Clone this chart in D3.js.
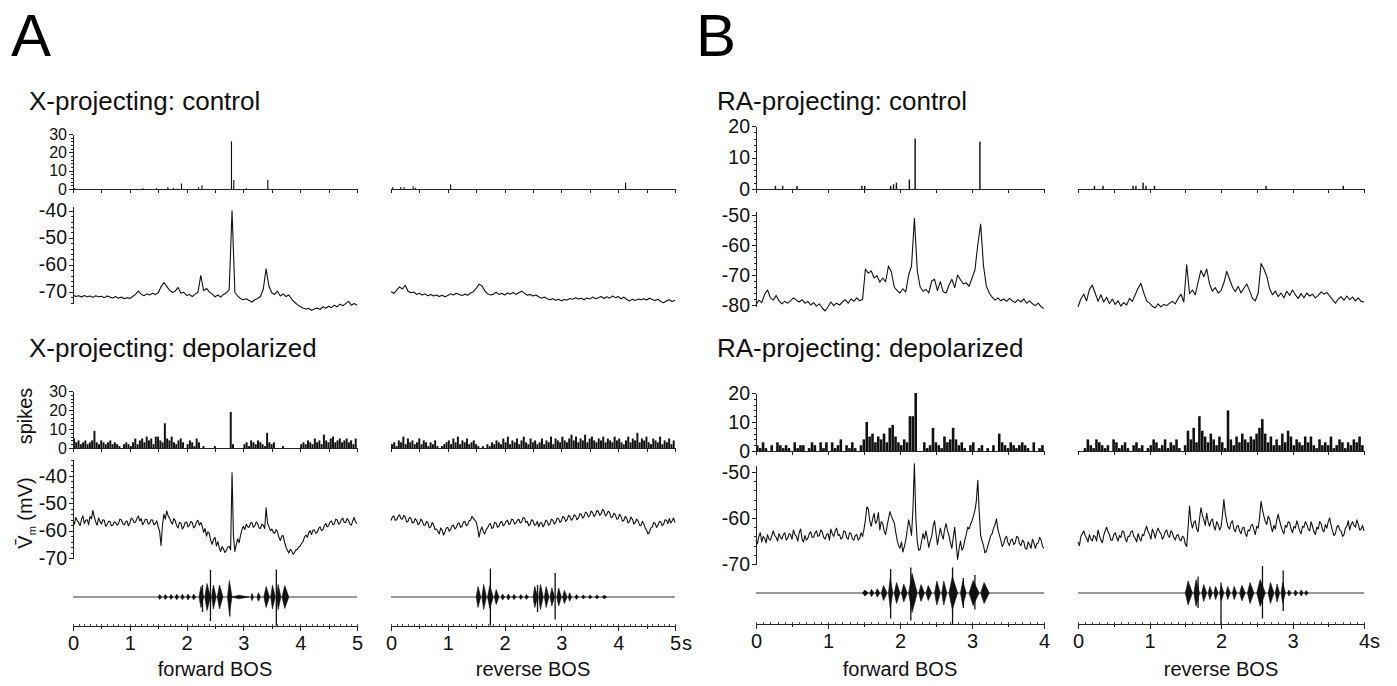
<!DOCTYPE html>
<html>
<head>
<meta charset="utf-8">
<title>BOS responses</title>
<script src="https://d3js.org/d3.v7.min.js"></script>
<style>
  body { margin: 0; background: #fff; }
  svg { display: block; font-family: "Liberation Sans", Arial, Helvetica, sans-serif; }
  .trace { fill: none; stroke: #111; stroke-width: 1.1; stroke-linejoin: round; }
  .axis path, .axis line { stroke: #222; shape-rendering: crispEdges; }
  .axis text { fill: #111; font-family: "Liberation Sans", Arial, sans-serif; }
</style>
</head>
<body>
<script>
// ---------- data ----------
// control Vm traces, mV. A: step 0.05 s over 5 s, B: step 0.04 s over 4 s
const vmA_ctrl_fwd = [-71.2,-71.8,-71.5,-72.0,-71.4,-71.9,-71.6,-72.1,-71.5,-71.9,
  -71.7,-72.2,-71.6,-72.0,-72.3,-71.8,-72.4,-72.0,-72.6,-72.2,
  -72.5,-71.8,-71.0,-69.8,-70.9,-71.5,-70.8,-71.2,-70.6,-71.0,
  -70.4,-68.2,-66.6,-68.0,-69.4,-70.3,-69.8,-68.4,-70.6,-70.2,
  -71.4,-71.0,-71.8,-70.9,-70.2,-64.0,-69.6,-68.8,-70.1,-70.8,
  -71.9,-71.2,-72.0,-71.0,-70.4,-69.2,-40.0,-70.3,-71.6,-72.6,
  -73.0,-72.6,-73.3,-73.8,-73.0,-72.5,-71.8,-69.0,-61.5,-68.0,
  -70.4,-71.0,-69.8,-71.6,-70.8,-71.8,-71.2,-72.8,-73.9,-74.8,
  -75.5,-76.0,-76.4,-76.2,-76.9,-76.4,-76.0,-76.6,-75.6,-76.1,
  -75.4,-75.9,-75.0,-75.6,-74.6,-75.2,-74.4,-73.6,-75.0,-74.4,-75.0];
const vmA_ctrl_rev = [-70.0,-70.6,-69.4,-68.2,-69.0,-67.6,-69.8,-70.4,-70.1,-71.0,
  -70.6,-71.2,-70.8,-71.5,-71.0,-71.6,-71.2,-71.8,-71.3,-71.9,
  -71.4,-70.8,-71.2,-70.6,-71.0,-71.4,-70.9,-71.3,-70.5,-70.0,
  -68.8,-67.2,-67.8,-69.6,-70.8,-71.2,-71.0,-70.2,-71.0,-70.6,
  -71.2,-70.5,-70.9,-70.3,-71.0,-70.4,-69.8,-70.6,-71.3,-71.0,
  -71.6,-71.2,-71.9,-72.4,-72.0,-72.6,-73.0,-72.6,-73.2,-72.8,
  -73.4,-72.9,-73.1,-72.5,-72.8,-72.2,-72.7,-72.4,-73.0,-72.3,
  -72.7,-72.0,-72.6,-72.2,-71.8,-72.5,-71.9,-72.4,-71.6,-72.2,
  -71.8,-72.6,-72.0,-72.9,-73.4,-72.8,-73.3,-72.7,-73.0,-72.6,
  -73.1,-72.4,-72.9,-73.3,-72.8,-73.6,-74.1,-73.4,-73.0,-73.6,-73.2];
const vmB_ctrl_fwd = [-80.0,-78.4,-79.2,-76.4,-75.0,-77.6,-78.4,-76.8,-78.6,-79.6,
  -78.8,-79.4,-78.6,-77.6,-78.4,-79.0,-78.2,-79.4,-78.8,-80.0,
  -79.2,-80.4,-79.6,-81.0,-82.0,-80.6,-79.0,-80.2,-79.4,-80.0,
  -79.0,-78.2,-79.4,-78.0,-78.8,-77.6,-78.6,-78.2,-68.0,-69.4,
  -68.6,-71.0,-70.2,-72.4,-71.0,-72.2,-67.0,-69.0,-74.0,-75.2,
  -76.0,-74.6,-75.6,-70.0,-67.0,-51.2,-68.6,-74.0,-75.4,-74.8,
  -76.0,-72.0,-71.4,-75.2,-72.2,-75.6,-76.0,-73.4,-71.4,-74.2,
  -70.0,-71.6,-73.0,-72.6,-73.8,-71.0,-68.4,-60.0,-53.0,-67.0,
  -73.8,-76.0,-77.4,-78.4,-77.6,-78.6,-78.0,-78.8,-77.8,-78.6,
  -79.2,-78.2,-79.0,-78.0,-79.4,-78.6,-79.6,-80.2,-79.4,-80.6,-81.2];
const vmB_ctrl_rev = [-80.6,-78.0,-76.4,-78.6,-74.8,-73.4,-76.0,-78.8,-76.6,-79.0,
  -77.4,-79.6,-78.0,-79.8,-78.6,-80.4,-79.2,-80.0,-77.8,-78.8,
  -76.6,-74.4,-72.8,-76.0,-78.6,-79.4,-80.4,-81.0,-79.6,-80.6,
  -79.8,-80.2,-79.4,-78.8,-79.6,-77.8,-76.4,-79.0,-66.6,-76.2,
  -75.0,-76.6,-72.4,-68.4,-70.6,-68.0,-73.0,-75.4,-74.2,-76.0,
  -75.2,-72.6,-68.8,-71.4,-74.0,-75.6,-73.8,-76.0,-74.4,-73.0,
  -75.2,-77.8,-78.6,-76.0,-66.2,-68.0,-70.4,-74.6,-76.6,-75.4,
  -77.2,-76.0,-77.6,-75.4,-76.8,-75.0,-76.6,-77.8,-76.2,-77.6,
  -76.0,-77.0,-76.4,-77.6,-76.8,-75.6,-76.4,-75.8,-77.0,-78.2,
  -79.4,-78.0,-77.2,-78.4,-77.0,-78.2,-77.4,-78.6,-77.6,-78.8,-79.0];

// depolarized Vm traces, mV. A: step 0.025 s, B: step 0.02 s
const vmA_dep_fwd = [-56.3,-57.6,-55.2,-56.4,-57.0,-58.2,-55.8,-54.6,-57.4,-56.2,-56.0,-57.8,-54.8,-55.6,-52.6,-55.0,-56.8,-58.0,-55.4,-56.6,
  -57.6,-56.0,-56.2,-58.4,-57.8,-56.6,-56.6,-58.2,-58.0,-56.8,-56.9,-58.0,-57.5,-55.8,-56.0,-57.4,-57.9,-56.8,-56.4,-58.2,
  -57.2,-55.4,-55.8,-57.0,-56.9,-55.6,-54.6,-56.4,-55.6,-57.8,-57.0,-55.8,-55.9,-57.6,-57.3,-56.0,-56.1,-57.8,-57.5,-56.4,
  -58.6,-60.2,-65.4,-58.0,-54.0,-55.8,-52.8,-54.6,-55.4,-56.8,-57.6,-55.6,-56.3,-58.2,-59.0,-57.0,-57.2,-59.4,-58.6,-57.0,
  -56.8,-58.6,-58.0,-56.6,-57.1,-59.0,-58.4,-56.8,-56.2,-58.0,-57.0,-58.4,-60.6,-59.2,-62.0,-60.4,-61.0,-63.6,-65.0,-63.2,
  -62.4,-65.6,-64.0,-66.2,-67.6,-65.8,-66.8,-68.0,-67.2,-66.0,-65.8,-67.0,-38.8,-62.0,-67.6,-65.0,-63.0,-64.4,-61.6,-59.6,
  -58.4,-59.6,-57.6,-58.6,-58.8,-57.2,-57.0,-58.8,-58.2,-56.8,-57.4,-59.0,-59.2,-57.6,-58.0,-59.2,-51.6,-57.2,-58.6,-60.0,
  -59.4,-60.6,-61.0,-59.6,-60.4,-62.4,-63.6,-62.0,-61.8,-64.2,-66.0,-67.2,-68.2,-66.8,-67.4,-68.6,-68.0,-67.0,-66.8,-66.0,
  -65.6,-64.6,-64.0,-62.4,-61.6,-62.4,-60.8,-60.0,-61.4,-59.8,-59.8,-61.0,-60.6,-59.2,-58.6,-60.0,-59.6,-58.2,-57.4,-58.6,
  -58.2,-56.8,-56.4,-57.8,-57.6,-55.8,-56.0,-57.6,-57.2,-56.0,-55.4,-57.0,-57.0,-55.6,-56.2,-57.6,-58.0,-56.4,-55.2,-56.8,-57.4];
const vmA_dep_rev = [-56.3,-55.0,-54.6,-56.2,-56.0,-54.8,-54.2,-55.6,-55.8,-54.4,-55.0,-56.8,-56.6,-55.2,-55.4,-57.2,-57.0,-55.6,-56.2,-57.8,
  -57.4,-55.8,-56.4,-58.0,-58.0,-56.6,-57.2,-59.0,-58.6,-57.0,-57.8,-59.6,-59.4,-60.2,-61.2,-59.0,-59.8,-61.6,-60.4,-59.0,
  -58.8,-60.2,-59.6,-58.2,-58.0,-59.4,-58.8,-57.4,-57.2,-58.8,-58.4,-56.8,-56.6,-58.2,-57.8,-56.4,-56.2,-54.8,-55.4,-56.2,
  -56.8,-59.0,-62.4,-60.0,-58.6,-60.4,-61.2,-59.6,-59.0,-57.8,-57.4,-59.2,-58.8,-57.0,-57.2,-58.8,-58.4,-57.0,-56.6,-58.2,
  -57.8,-56.6,-56.2,-57.8,-57.4,-55.8,-56.0,-57.6,-57.2,-56.2,-55.8,-57.2,-56.8,-55.2,-55.4,-57.0,-56.6,-58.2,-57.6,-56.0,
  -56.4,-58.0,-57.8,-56.6,-58.6,-57.2,-57.0,-58.6,-57.8,-56.2,-56.6,-58.0,-57.4,-55.8,-56.2,-57.6,-57.0,-55.4,-55.6,-57.0,
  -56.4,-54.8,-55.2,-56.6,-56.0,-54.4,-54.8,-56.2,-55.6,-54.2,-54.6,-56.0,-55.4,-53.8,-54.0,-55.4,-54.8,-53.2,-53.6,-55.0,
  -54.4,-52.8,-53.4,-54.8,-54.2,-52.6,-53.0,-54.4,-53.8,-52.2,-52.8,-54.6,-54.0,-52.8,-53.4,-55.2,-55.0,-53.6,-54.2,-55.8,
  -55.6,-54.0,-54.8,-56.6,-56.2,-54.8,-55.4,-57.2,-56.6,-55.0,-55.8,-57.6,-57.0,-55.8,-56.4,-58.0,-58.2,-56.6,-57.4,-59.0,
  -59.8,-61.2,-60.6,-59.0,-58.6,-57.0,-57.4,-58.8,-58.0,-56.6,-56.8,-58.2,-57.6,-56.0,-56.2,-57.4,-55.6,-57.2,-56.4,-55.4,-57.0];
const vmB_dep_fwd = [-64.8,-65.6,-64.0,-63.2,-65.2,-64.0,-64.4,-65.4,-63.6,-64.6,-64.8,-63.8,-62.8,-63.8,-64.2,-65.0,-63.4,-64.2,-64.6,-63.6,
  -63.2,-64.8,-64.4,-63.4,-63.6,-64.6,-62.6,-63.6,-64.0,-65.0,-63.2,-62.4,-64.6,-65.2,-63.8,-64.8,-64.4,-63.4,-63.0,-64.2,
  -64.2,-63.2,-62.8,-64.0,-63.8,-62.6,-63.0,-64.2,-64.6,-63.6,-63.4,-64.8,-62.4,-63.4,-64.0,-62.8,-62.2,-63.8,-63.6,-64.6,
  -64.2,-62.8,-63.0,-64.2,-64.6,-63.2,-63.4,-64.6,-64.8,-63.8,-63.6,-64.8,-64.4,-63.2,-64.0,-62.4,-60.4,-57.6,-58.0,-60.6,
  -61.8,-60.2,-59.0,-61.2,-60.6,-58.8,-62.6,-60.8,-61.2,-62.8,-63.6,-61.8,-60.2,-58.6,-59.6,-60.4,-61.0,-63.0,-64.8,-66.0,
  -66.6,-65.2,-67.4,-66.2,-64.8,-62.6,-60.4,-61.8,-63.8,-58.0,-48.2,-60.0,-65.2,-67.0,-66.8,-65.0,-63.4,-64.6,-62.8,-64.4,
  -66.4,-65.0,-64.0,-61.8,-60.6,-63.2,-65.8,-64.0,-62.2,-63.6,-64.6,-62.4,-61.2,-62.8,-63.8,-65.4,-66.6,-64.2,-62.0,-65.6,
  -69.0,-66.8,-65.0,-67.0,-66.4,-64.8,-63.6,-62.0,-62.4,-61.4,-60.6,-59.6,-58.4,-56.4,-51.8,-58.6,-63.8,-65.0,-66.0,-67.6,
  -67.2,-66.0,-65.0,-63.8,-63.4,-62.2,-61.4,-60.2,-62.6,-63.6,-64.8,-66.2,-65.6,-64.4,-64.0,-65.4,-66.0,-64.8,-64.6,-65.8,
  -65.4,-64.0,-64.2,-65.6,-66.0,-64.8,-65.2,-66.6,-66.8,-65.2,-65.8,-66.6,-64.6,-65.4,-66.6,-65.6,-65.4,-64.2,-64.8,-66.2,-66.6];
const vmB_dep_rev = [-65.2,-66.0,-64.0,-63.4,-62.8,-63.8,-64.4,-65.2,-63.6,-64.6,-65.0,-63.8,-64.0,-65.0,-62.6,-63.8,-64.8,-65.4,-63.8,-62.8,
  -62.0,-63.0,-63.6,-64.8,-64.8,-63.6,-63.2,-64.2,-65.0,-63.8,-64.2,-62.8,-63.0,-64.4,-65.2,-64.0,-64.0,-63.0,-62.8,-64.0,
  -64.4,-65.2,-63.4,-64.4,-65.0,-63.6,-63.8,-62.6,-61.8,-63.0,-63.6,-64.6,-62.4,-63.2,-64.4,-63.0,-62.2,-63.0,-63.4,-64.6,
  -64.0,-63.0,-62.6,-63.8,-64.2,-62.8,-63.2,-64.2,-64.8,-63.8,-63.6,-64.6,-65.0,-64.0,-64.2,-65.6,-66.2,-62.0,-57.4,-60.8,
  -62.2,-61.0,-60.6,-62.4,-63.0,-60.2,-57.8,-59.4,-60.4,-61.6,-59.0,-60.8,-61.8,-60.6,-60.2,-61.8,-62.6,-60.8,-61.4,-62.6,
  -62.0,-59.4,-56.0,-59.0,-60.8,-62.0,-62.4,-61.0,-60.6,-62.4,-63.0,-61.8,-61.6,-62.8,-63.4,-62.2,-62.0,-63.4,-64.0,-62.6,
  -62.8,-61.6,-61.4,-62.6,-63.6,-61.8,-62.2,-59.8,-56.4,-58.2,-59.6,-60.8,-61.4,-59.6,-60.2,-61.8,-63.0,-61.6,-62.4,-60.4,
  -59.2,-60.6,-61.8,-62.8,-63.4,-61.6,-62.0,-60.8,-61.0,-62.4,-63.2,-61.8,-62.2,-60.6,-61.6,-62.8,-63.4,-61.8,-62.0,-60.8,
  -61.4,-62.4,-62.8,-60.8,-61.8,-63.0,-63.6,-62.0,-62.4,-60.8,-61.2,-62.6,-63.0,-61.4,-62.2,-60.8,-60.0,-61.6,-62.8,-63.8,
  -63.4,-62.0,-61.6,-62.6,-62.8,-64.0,-63.6,-62.2,-61.8,-60.6,-62.6,-61.4,-60.8,-61.6,-62.0,-60.4,-61.4,-62.6,-62.4,-61.6,-62.8];

// spike histograms, depolarized: 0.04 s bins
const histA_dep_fwd = [5,3,4,2,3,4,2,3,4,9, 3,2,4,3,2,3,4,2,3,2, 1,0,2,3,2,1,3,5,2,4,
  5,3,6,4,5,2,6,6,4,3, 13,5,4,6,3,2,4,5,3,0, 2,4,3,1,5,3,0,1,0,0,
  0,0,1,0,0,0,0,0,0,19, 2,0,0,0,0,2,3,1,4,3, 2,4,3,2,1,8,3,2,3,0,
  0,0,1,0,0,0,0,0,0,0, 2,3,2,4,3,2,5,3,4,2, 7,4,3,5,6,3,4,5,3,4, 5,3,4,2,5];
const histA_dep_rev = [2,3,1,4,3,6,2,5,3,4, 2,3,5,2,4,3,1,3,2,4, 1,0,1,2,3,
  4,2,5,3,6,2,4,3,5,2, 3,4,2,1,0,1,0,2,1,3, 2,4,3,2,5,3,6,2,4,3,
  5,2,4,6,3,2,5,3,4,2, 3,5,2,4,3,6,2,5,4,3, 6,4,3,5,7,4,6,3,5,4,
  7,3,5,6,4,3,5,4,6,3, 5,4,3,6,4,5,3,2,4,6, 3,5,4,8,3,5,4,6,3,2, 5,4,3,6,2,4,3,5,2,4];
const histB_dep_fwd = [2,1,3,1,0,2,0,3,2,1, 2,1,0,3,1,2,2,0,1,3, 2,0,3,1,3,0,3,1,2,4,
  0,2,1,3,1,0,2, 4,10,5,6,3,5,4,6,3,8,9,5,3,
  2,4,3,12,12,20,0,0,3,1, 2,8,3,2,1,5,3,4,8,4, 2,3,1,0,2,3,0,1,2,0,
  1,0,2,0,6,3,2,1,3,2, 1,2,3,2,1,0,3,0,1,2];
const histB_dep_rev = [0,0,1,4,2,1,4,3,2,1, 2,0,4,3,1,2,3,1,0,2, 3,1,2,0,1,2,4,3,1,2,
  4,1,3,2,4,1,0, 2,7,4,
  8,3,12,7,5,3,6,4,2,5, 3,1,14,4,2,5,3,6,4,3, 5,4,6,8,11,6,3,5,2,4,
  2,6,3,7,5,2,4,3,2,5, 3,5,2,1,4,2,3,2,5,1, 2,4,3,1,3,2,4,3,5,2];

// spike histograms, control: sparse [time s, count], 0.02 s bins
const histA_ctrl_fwd = [[0.02,0.5],[1.22,0.5],[1.46,0.6],[1.66,1],[1.76,0.5],[1.90,3],[2.20,1],[2.26,2],[2.78,26],[2.82,5],[3.04,0.5],[3.42,5]];
const histA_ctrl_rev = [[0.02,1],[0.16,1],[0.22,1],[0.38,1.5],[0.42,0.7],[1.04,2.5],[4.12,3.5]];
const histB_ctrl_fwd = [[0.26,1],[0.36,1],[0.56,1],[1.46,1],[1.50,1],[1.86,1],[1.90,1.5],[1.94,2],[2.12,3],[2.20,16],[3.10,15]];
const histB_ctrl_rev = [[0.22,1],[0.34,1],[0.76,1],[0.80,1],[0.90,2],[0.94,1],[1.06,1],[2.62,1],[3.70,1]];

// song: syllables [start s, end s, rel. amplitude], clicks [time s, up, down]
const songA_fwd = [[1.50,1.56,0.08],[1.60,1.66,0.08],[1.70,1.76,0.08],[1.80,1.86,0.09],[1.90,1.96,0.09],[2.00,2.06,0.1],[2.10,2.16,0.1],
  [2.22,2.30,0.35],[2.32,2.42,0.45],[2.44,2.52,0.4],[2.54,2.64,0.4],[2.72,2.80,0.55],[2.80,3.10,0.06],[3.13,3.18,0.12],[3.24,3.30,0.14],
  [3.36,3.46,0.35],[3.48,3.56,0.4],[3.58,3.66,0.42],[3.68,3.80,0.38]];
const clicksA_fwd = [[2.42,0.9,0.8],[2.28,0.4,0.5],[2.76,0.35,0.65],[3.58,0.92,0.95]];
const songA_rev = [[1.50,1.58,0.35],[1.60,1.68,0.42],[1.70,1.80,0.38],[1.82,1.90,0.25],[1.94,2.00,0.1],[2.04,2.10,0.1],[2.14,2.20,0.09],
  [2.26,2.32,0.08],[2.36,2.42,0.08],[2.50,2.58,0.35],[2.60,2.68,0.42],[2.70,2.78,0.35],[2.80,2.88,0.3],[2.92,3.00,0.3],[3.02,3.10,0.22],
  [3.12,3.18,0.14],[3.24,3.30,0.08],[3.36,3.42,0.07],[3.48,3.54,0.07],[3.60,3.66,0.07],[3.72,3.80,0.06]];
const clicksA_rev = [[1.75,0.95,0.95],[2.58,0.4,0.5],[2.89,0.8,0.75]];
const songB_fwd = [[1.48,1.56,0.1],[1.58,1.64,0.12],[1.66,1.72,0.14],[1.74,1.82,0.25],[1.84,1.90,0.5],[1.92,2.00,0.35],[2.02,2.10,0.3],
  [2.12,2.24,0.65],[2.26,2.34,0.28],[2.36,2.44,0.25],[2.48,2.56,0.4],[2.58,2.65,0.4],[2.68,2.80,0.55],[2.84,2.92,0.4],[2.96,3.10,0.42],[3.12,3.24,0.35]];
const clicksB_fwd = [[1.87,0.8,0.85],[2.15,0.85,0.92],[2.73,0.85,1.05],[2.88,0.5,0.5],[3.04,0.6,0.55]];
const songB_rev = [[1.50,1.60,0.4],[1.62,1.70,0.45],[1.73,1.80,0.28],[1.82,1.88,0.22],[1.90,1.96,0.22],[1.98,2.04,0.26],[2.07,2.13,0.22],
  [2.16,2.22,0.22],[2.26,2.34,0.26],[2.37,2.46,0.35],[2.50,2.62,0.45],[2.66,2.74,0.35],[2.76,2.82,0.3],[2.84,2.90,0.35],[2.93,2.98,0.1],
  [3.02,3.07,0.1],[3.10,3.15,0.1],[3.17,3.22,0.08]];
const clicksB_rev = [[1.68,0.55,0.5],[2.0,0.35,1.05],[2.58,0.9,0.85],[2.87,0.75,0.6]];

const ticksHistA = [0,10,20,30], ticksHistB = [0,10,20];
const ticksVmA = [-40,-50,-60,-70], ticksVmBc = [-50,-60,-70,-80], ticksVmBd = [-50,-60,-70];

// ---------- layout ----------
const W = 1397, H = 686;
const FONT = '"Liberation Sans", Arial, sans-serif';
const svg = d3.select("body").append("svg").attr("width", W).attr("height", H);

const panels = [
  { letter: "A", lx: 11, tx: 29, tmax: 5, stepC: 0.05, stepD: 0.025, cols: [[73, 357], [391, 675]], sGap: 7,
    titles: ["X-projecting: control", "X-projecting: depolarized"],
    h1: { y0: 189, top: 134, max: 30, ticks: ticksHistA, fs: 16 },
    v1: { dom: [-70, -40], rng: [291.7, 210.7], ext: [-74.4, -38.5], ticks: ticksVmA },
    h2: { y0: 448, top: 391, max: 30, ticks: ticksHistA, fs: 16 },
    v2: { dom: [-70, -40], rng: [558, 476], ext: [-70, -34], ticks: ticksVmA },
    snd: 597, ax: 626,
    fwd: { v1: vmA_ctrl_fwd, v2: vmA_dep_fwd, h1: histA_ctrl_fwd, h2: histA_dep_fwd, song: songA_fwd, clicks: clicksA_fwd },
    rev: { v1: vmA_ctrl_rev, v2: vmA_dep_rev, h1: histA_ctrl_rev, h2: histA_dep_rev, song: songA_rev, clicks: clicksA_rev } },
  { letter: "B", lx: 696, tx: 717, tmax: 4, stepC: 0.04, stepD: 0.02, cols: [[756, 1044], [1078, 1364]], sGap: 6,
    titles: ["RA-projecting: control", "RA-projecting: depolarized"],
    h1: { y0: 189, top: 126, max: 20, ticks: ticksHistB, fs: 19.5 },
    v1: { dom: [-80, -50], rng: [305, 215], ext: [-80.5, -48.8], ticks: ticksVmBc },
    h2: { y0: 451, top: 393, max: 20, ticks: ticksHistB, fs: 19.5 },
    v2: { dom: [-70, -50], rng: [564, 472], ext: [-70, -48.5], ticks: ticksVmBd },
    snd: 593, ax: 624,
    fwd: { v1: vmB_ctrl_fwd, v2: vmB_dep_fwd, h1: histB_ctrl_fwd, h2: histB_dep_fwd, song: songB_fwd, clicks: clicksB_fwd },
    rev: { v1: vmB_ctrl_rev, v2: vmB_dep_rev, h1: histB_ctrl_rev, h2: histB_dep_rev, song: songB_rev, clicks: clicksB_rev } }
];

function styleAxis(g, fs) {
  g.attr("class", "axis");
  g.selectAll("text").attr("font-size", fs).attr("font-family", FONT);
  g.selectAll("line").attr("stroke-width", 1);
  g.select(".domain").attr("stroke-width", 1);
}

function leftAxis(x0, y, ticks, minorStep, ext, fs) {
  const lo = ext ? ext[0] : y.domain()[0], hi = ext ? ext[1] : y.domain()[1];
  const ys = y.copy().domain([lo, hi]).range([y(lo), y(hi)]);
  const minor = d3.range(Math.ceil(lo / minorStep) * minorStep, hi + 1e-6, minorStep);
  const gm = svg.append("g").attr("transform", `translate(${x0},0)`)
    .call(d3.axisLeft(ys).tickValues(minor).tickSize(2).tickSizeOuter(0).tickFormat(""));
  styleAxis(gm, 10);
  const g = svg.append("g").attr("transform", `translate(${x0},0)`)
    .call(d3.axisLeft(ys).tickValues(ticks).tickSize(4).tickSizeOuter(0).tickPadding(2).tickFormat(d => String(d)));
  styleAxis(g, fs || 19.5);
  g.select(".domain").remove();
}

function drawHist(x, cfg, data, dense, tmax, withAxis) {
  const y = d3.scaleLinear([0, cfg.max], [cfg.y0, cfg.top]);
  const bw = dense ? 0.04 : 0.02;
  const rows = dense ? data.map((v, i) => [i * bw, v]) : data;
  svg.append("g").selectAll("rect").data(rows.filter(d => d[1] > 0)).join("rect")
    .attr("x", d => x(d[0]))
    .attr("y", d => y(d[1]))
    .attr("width", d => Math.max(1, x(d[0] + bw) - x(d[0]) - (dense ? 0.3 : 0)))
    .attr("height", d => y(0) - y(d[1]))
    .attr("fill", "#111");
  const gx = svg.append("g").attr("transform", `translate(0,${cfg.y0})`)
    .call(d3.axisBottom(x).tickValues(d3.range(0, tmax + 0.01, 0.5)).tickSize(4).tickSizeOuter(0).tickFormat(""));
  styleAxis(gx, 10);
  if (withAxis) leftAxis(x.range()[0], y, cfg.ticks, 2, null, cfg.fs);
}

function drawVm(x, cfg, data, step, withAxis) {
  const y = d3.scaleLinear(cfg.dom, cfg.rng);
  svg.append("path").datum(data).attr("class", "trace")
    .attr("d", d3.line().x((d, i) => x(i * step)).y(d => y(d)));
  if (withAxis) leftAxis(x.range()[0], y, cfg.ticks, 2, cfg.ext);
}

function drawSong(x, base, song, clicks, tmax) {
  const amp = d3.scaleLinear([0, 1], [0, 30]);
  svg.append("line").attr("x1", x(0)).attr("x2", x(tmax)).attr("y1", base).attr("y2", base)
    .attr("stroke", "#333").attr("stroke-width", 1);
  // each syllable as a spindle: rises fast, decays slower
  const spindle = d => {
    const a = Math.max(1.2, amp(d[2])), pk = x(d[0] + (d[1] - d[0]) * 0.4);
    return `M${x(d[0])},${base} L${pk},${base - a} L${x(d[1])},${base} L${pk},${base + a} Z`;
  };
  svg.append("g").selectAll("path").data(song).join("path")
    .attr("d", spindle).attr("fill", "#111").attr("stroke", "#111").attr("stroke-width", 0.6);
  svg.append("g").selectAll("line").data(clicks).join("line")
    .attr("x1", d => x(d[0])).attr("x2", d => x(d[0]))
    .attr("y1", d => base - amp(d[1])).attr("y2", d => base + amp(d[2]))
    .attr("stroke", "#111").attr("stroke-width", 1.3);
}

function drawTime(x, yAx, tmax, isLast, sGap) {
  const minor = svg.append("g").attr("transform", `translate(0,${yAx})`)
    .call(d3.axisTop(x).tickValues(d3.range(0, tmax + 0.001, 0.1)).tickSize(2).tickSizeOuter(0).tickFormat(""));
  styleAxis(minor, 10);
  minor.selectAll("line").attr("stroke-width", 0.8);
  const half = svg.append("g").attr("transform", `translate(0,${yAx})`)
    .call(d3.axisBottom(x).tickValues(d3.range(0.5, tmax, 1)).tickSize(3).tickSizeOuter(0).tickFormat(""));
  styleAxis(half, 10);
  const g = svg.append("g").attr("transform", `translate(0,${yAx})`)
    .call(d3.axisBottom(x).tickValues(d3.range(0, tmax + 0.001, 1)).tickSize(5).tickSizeOuter(0).tickPadding(5).tickFormat(d3.format("d")));
  styleAxis(g, 20);
  if (isLast) {
    svg.append("text").attr("x", x(tmax) + sGap).attr("y", yAx + 24)
      .attr("font-size", 20).attr("font-family", FONT).attr("fill", "#111").text("s");
  }
}

panels.forEach(p => {
  svg.append("text").attr("x", p.lx).attr("y", 56).attr("font-size", 60)
    .attr("font-family", FONT).attr("fill", "#000").text(p.letter);
  svg.append("text").attr("x", p.tx).attr("y", 110).attr("font-size", 26)
    .attr("font-family", FONT).attr("fill", "#111").text(p.titles[0]);
  svg.append("text").attr("x", p.tx).attr("y", 357).attr("font-size", 26)
    .attr("font-family", FONT).attr("fill", "#111").text(p.titles[1]);

  ["fwd", "rev"].forEach((side, ci) => {
    const x = d3.scaleLinear([0, p.tmax], p.cols[ci]);
    const d = p[side];
    const first = ci === 0;
    drawHist(x, p.h1, d.h1, false, p.tmax, first);
    drawVm(x, p.v1, d.v1, p.stepC, first);
    drawHist(x, p.h2, d.h2, true, p.tmax, first);
    drawVm(x, p.v2, d.v2, p.stepD, first);
    drawSong(x, p.snd, d.song, d.clicks, p.tmax);
    drawTime(x, p.ax, p.tmax, !first, p.sGap);
    svg.append("text").attr("x", (x(0) + x(p.tmax)) / 2).attr("y", 676)
      .attr("text-anchor", "middle").attr("font-size", 20).attr("font-family", FONT)
      .attr("fill", "#111").text(first ? "forward BOS" : "reverse BOS");
  });
});

// y labels, panel A depolarized
svg.append("text").attr("transform", "translate(32,416) rotate(-90)")
  .attr("text-anchor", "middle").attr("font-size", 20).attr("font-family", FONT)
  .attr("fill", "#111").text("spikes");
const vl = svg.append("text").attr("transform", "translate(32,513) rotate(-90)")
  .attr("text-anchor", "middle").attr("font-size", 20).attr("font-family", FONT).attr("fill", "#111");
vl.append("tspan").text("V\u0304");
vl.append("tspan").attr("font-size", 11).attr("dy", 4).text("m");
vl.append("tspan").attr("dy", -4).text(" (mV)");
</script>
</body>
</html>
